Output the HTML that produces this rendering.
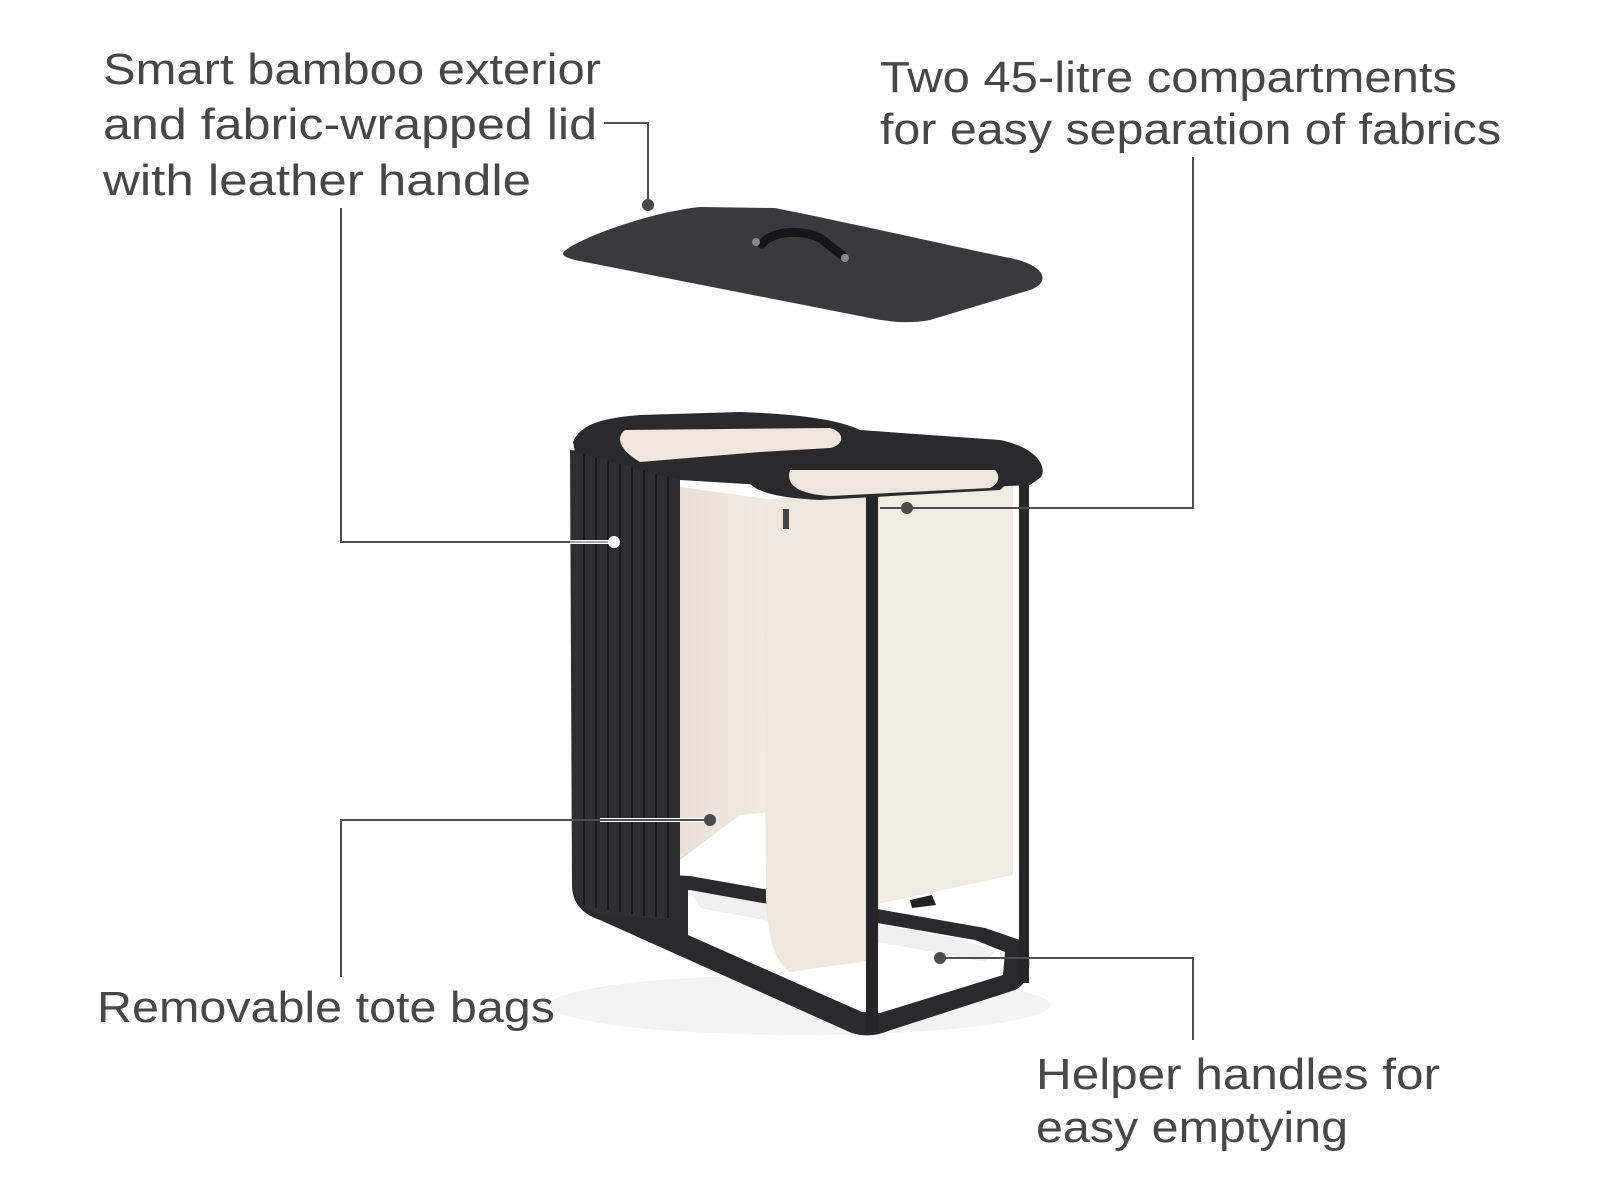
<!DOCTYPE html>
<html><head><meta charset="utf-8"><style>
html,body{margin:0;padding:0;background:#fff;}
svg{display:block}
text{font-family:"Liberation Sans",sans-serif;fill:#474747;font-size:44px;}
</style></head><body>
<svg width="1600" height="1200" viewBox="0 0 1600 1200" xmlns="http://www.w3.org/2000/svg">
<defs>
<linearGradient id="bag" x1="0" y1="0" x2="1" y2="0"><stop offset="0" stop-color="#e6e0d8"/><stop offset="1" stop-color="#efebe5"/></linearGradient>
</defs>

<!-- texts -->
<text x="103" y="84" textLength="498" lengthAdjust="spacingAndGlyphs">Smart bamboo exterior</text>
<text x="103" y="139" textLength="494" lengthAdjust="spacingAndGlyphs">and fabric-wrapped lid</text>
<text x="103" y="195" textLength="428" lengthAdjust="spacingAndGlyphs">with leather handle</text>
<text x="880" y="92" textLength="577" lengthAdjust="spacingAndGlyphs">Two 45-litre compartments</text>
<text x="880" y="144" textLength="621" lengthAdjust="spacingAndGlyphs">for easy separation of fabrics</text>
<text x="97" y="1022" textLength="458" lengthAdjust="spacingAndGlyphs">Removable tote bags</text>
<text x="1036" y="1089" textLength="404" lengthAdjust="spacingAndGlyphs">Helper handles for</text>
<text x="1036" y="1142" textLength="312" lengthAdjust="spacingAndGlyphs">easy emptying</text>

<!-- lid -->
<path d="M566,250 C580,238 650,212 700,207 L775,208 C860,225 960,248 1010,258 C1045,265 1052,282 1030,290 L930,320 C910,324 890,322 870,318 L585,262 C562,258 560,254 566,250 Z" fill="#3a3a3c"/>
<path d="M762,244 C770,232 800,228 820,238 L842,255" stroke="#161616" stroke-width="9" fill="none" stroke-linecap="round"/>
<circle cx="756" cy="242" r="4" fill="#888"/><circle cx="845" cy="258" r="4" fill="#888"/>

<!-- floor shadow -->
<ellipse cx="800" cy="1005" rx="250" ry="30" fill="#f3f3f3"/>

<!-- base -->
<path d="M572,885 C572,905 585,915 600,920 L845,1030 C858,1037 874,1037 888,1031 L1015,990 C1032,983 1034,950 1020,940 L985,928 L690,876 L572,870 Z" fill="#2a2a2c"/>
<path d="M688,890 L975,940 L1005,952 L1003,975 L880,1013 L862,1012 L688,935 Z" fill="#fff"/>
<path d="M690,890 L965,940 L995,952 L985,962 L700,908 Z" fill="#efefef"/>

<!-- bags -->
<path d="M680,487 L775,500 L775,812 L740,815 L680,860 Z" fill="url(#bag)"/>
<path d="M763,500 L873,490 L873,960 L790,972 C775,962 768,940 766,900 Z" fill="#ece7e1"/>
<path d="M873,488 L1013,478 L1013,875 L873,905 Z" fill="#efebe6"/>
<rect x="783" y="509" width="6" height="20" fill="#444"/>
<path d="M910,900 L932,895 L936,905 L912,908 Z" fill="#222"/>

<!-- bamboo panel -->
<path d="M570,450 L680,460 L680,920 L600,915 C585,910 573,900 572,885 Z" fill="#2e2e30"/>
<g stroke="#1a1a1b" stroke-width="2">
<line x1="584" y1="452" x2="584" y2="905"/><line x1="596" y1="453" x2="596" y2="908"/><line x1="608" y1="454" x2="608" y2="910"/><line x1="620" y1="455" x2="620" y2="912"/><line x1="632" y1="456" x2="632" y2="914"/><line x1="644" y1="457" x2="644" y2="916"/><line x1="656" y1="458" x2="656" y2="917"/><line x1="668" y1="459" x2="668" y2="918"/>
</g>

<!-- frame bars -->
<rect x="866" y="480" width="12" height="552" fill="#262628"/>
<rect x="1019" y="478" width="10" height="505" fill="#262628"/>

<!-- rim -->
<path d="M573,442 C580,425 600,418 640,415 L740,412 C800,414 840,420 860,430 L1000,440 C1040,448 1048,470 1040,478 L1030,485 L880,492 L680,480 L575,452 Z" fill="#2a2a2c"/>
<path d="M625,430 L830,428 C845,432 845,445 830,448 L760,452 L640,462 C620,450 615,438 625,430 Z" fill="#ece6de"/>
<path d="M748,480 C745,468 760,458 790,456 L990,458 C1010,462 1015,478 1000,490 L820,500 C780,498 752,492 748,480 Z" fill="#2a2a2c"/>
<path d="M790,470 L995,470 C1000,475 1000,483 990,488 L830,496 C800,494 785,486 790,470 Z" fill="#ece6de"/>

<!-- connectors -->
<g stroke="#4e4e4e" stroke-width="2" fill="none">
<polyline points="604,123 648,123 648,205"/>
<polyline points="341,208 341,542 614,542"/>
<polyline points="1193,157 1193,508 907,508"/>
<polyline points="341,977 341,820 710,820"/>
<polyline points="940,958 1193,958 1193,1040"/>
</g>
<g stroke-width="2">
<line x1="880" y1="508" x2="1193" y2="508" stroke="#4e4e4e"/>
<line x1="600" y1="820" x2="710" y2="820" stroke="#fff" stroke-width="4"/>
<line x1="341" y1="820" x2="710" y2="820" stroke="#4e4e4e"/>
<line x1="340" y1="542" x2="614" y2="542" stroke="#4e4e4e"/>
<line x1="570" y1="542" x2="614" y2="542" stroke="#fff" stroke-width="4"/>
<line x1="570" y1="542" x2="614" y2="542" stroke="#4e4e4e" stroke-width="1"/>
</g>
<g fill="#4a4a4a">
<circle cx="648" cy="205" r="6"/>
<circle cx="907" cy="508" r="6"/>
<circle cx="710" cy="820" r="6"/>
<circle cx="940" cy="958" r="6"/>
</g>
<circle cx="614" cy="542" r="6" fill="#fff"/>
</svg>
</body></html>
